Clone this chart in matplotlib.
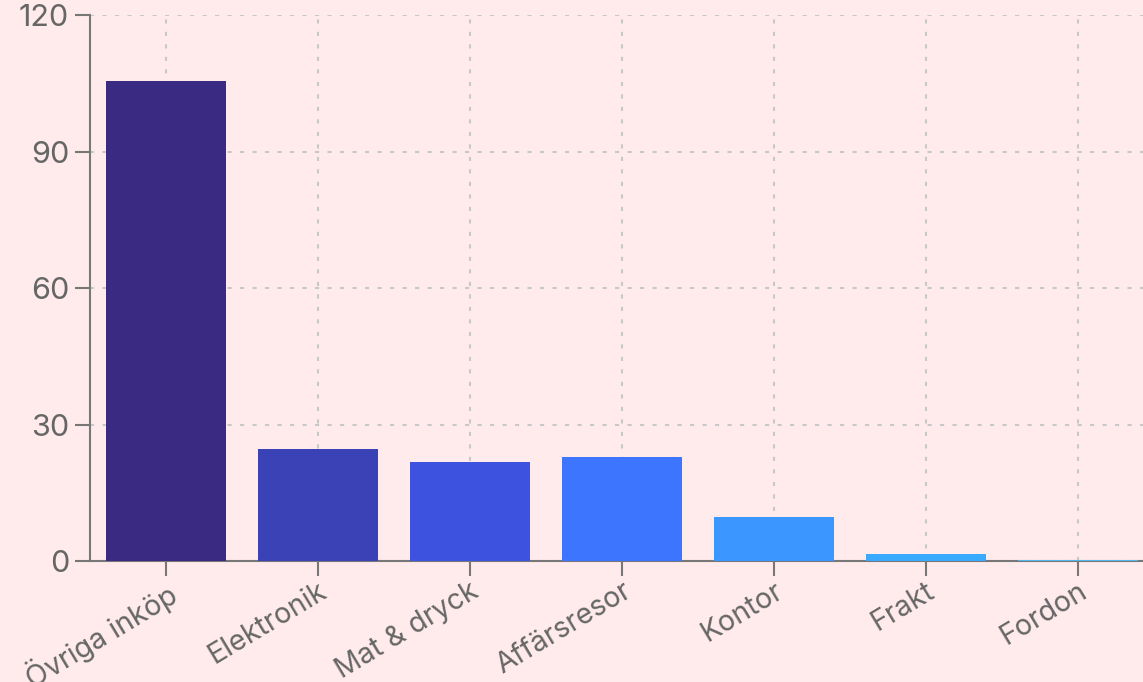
import matplotlib
matplotlib.use("Agg")
import matplotlib.pyplot as plt

categories = ["Övriga inköp", "Elektronik", "Mat & dryck", "Affärsresor", "Kontor", "Frakt", "Fordon"]
values = [105.5, 24.6, 21.8, 22.9, 9.7, 1.6, 0.2]
colors = ["#3B2A82", "#3B42B6", "#3D52DE", "#3D75FF", "#3B97FF", "#3AAAFF", "#55B5EE"]
yticks = [0, 30, 60, 90, 120]

bg = "#FFEBEB"
textc = "#666666"

plt.rcParams["font.family"] = ["Inter", "DejaVu Sans"]

fig = plt.figure(figsize=(11.43, 6.82), dpi=100, facecolor=bg)
ax = fig.add_axes([90/1143, 1 - 561/682, 1 - 90/1143, 546/682])
ax.set_facecolor(bg)

x = range(len(categories))
ax.bar(x, values, width=0.79, color=colors, zorder=5)

ax.set_xlim(-0.5, 6.43)
ax.set_ylim(0, 120)
ax.set_yticks(yticks)
ax.set_xticks(list(x))
ax.set_xticklabels(categories, rotation=31, ha="right", rotation_mode="anchor")

# dotted grid
ax.grid(True, color="#C8C8C8", linestyle=(0, (2, 4)), linewidth=1.5, zorder=0)

for s in ["top", "right"]:
    ax.spines[s].set_visible(False)
for s in ["left", "bottom"]:
    ax.spines[s].set_color("#777777")
    ax.spines[s].set_linewidth(1.5)
    ax.spines[s].set_zorder(4)

ax.tick_params(axis="both", colors="#777777", labelcolor=textc,
               length=11, width=1.5, direction="out")
ax.tick_params(axis="x", labelsize=20.5, pad=1)
ax.tick_params(axis="y", labelsize=22, pad=4)

fig.savefig("out.png", dpi=100, facecolor=bg)
